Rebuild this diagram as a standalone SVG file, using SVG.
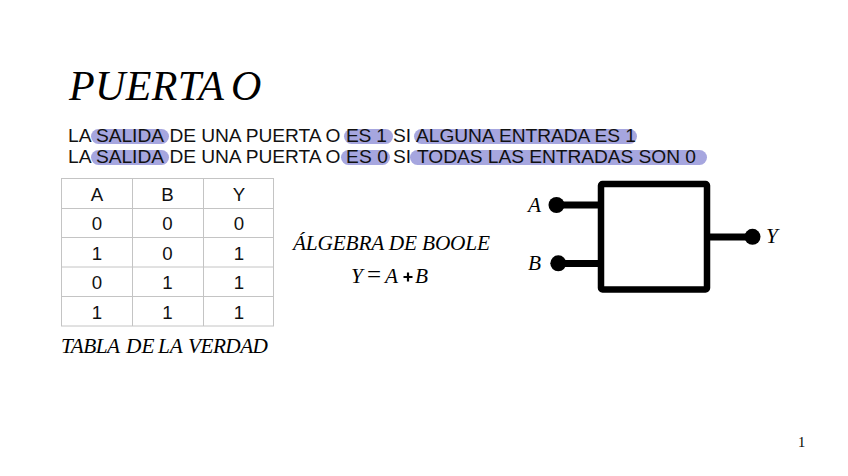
<svg xmlns="http://www.w3.org/2000/svg" width="848" height="476" viewBox="0 0 848 476">
<style>
.s{font-family:"Liberation Sans",Arial,sans-serif;font-size:19.2px;fill:#111}
.c{font-family:"Liberation Sans",Arial,sans-serif;font-size:18.7px;fill:#111;text-anchor:middle}
.i{font-family:"Liberation Serif","Times New Roman",serif;font-style:italic;fill:#000;font-size:21.3px}
.h{fill:#a6a6df}
.g{stroke:#c4c4c4;stroke-width:1;fill:none}
.k{stroke:#000;fill:none;stroke-width:7}
</style>
<rect width="848" height="476" fill="#fff"/>
<g id="title">
<text class="i" style="font-size:42px" x="69" y="100" textLength="155" lengthAdjust="spacing">PUERTA</text>
<text class="i" style="font-size:42px" x="231" y="100">O</text>
</g>
<g id="highlights">
<rect class="h" x="91" y="129" width="78" height="15" rx="7.500"/>
<rect class="h" x="344" y="129" width="49" height="15" rx="7.500"/>
<rect class="h" x="414" y="129" width="223" height="15" rx="7.500"/>
<rect class="h" x="91" y="150" width="78" height="15" rx="7.500"/>
<rect class="h" x="341" y="150" width="49" height="15" rx="7.500"/>
<rect class="h" x="410" y="150" width="297" height="15" rx="7.500"/>
</g>
<g id="description">
<text class="s" x="68" y="142">LA</text>
<text class="s" x="96" y="142" textLength="68">SALIDA</text>
<text class="s" x="169.500" y="142" textLength="171">DE UNA PUERTA O</text>
<text class="s" x="346" y="142" textLength="41">ES 1</text>
<text class="s" x="393" y="142">SI</text>
<text class="s" x="416" y="142" textLength="220">ALGUNA ENTRADA ES 1</text>
<text class="s" x="68" y="163">LA</text>
<text class="s" x="96" y="163" textLength="68">SALIDA</text>
<text class="s" x="169.500" y="163" textLength="171">DE UNA PUERTA O</text>
<text class="s" x="346" y="163" textLength="42">ES 0</text>
<text class="s" x="393" y="163">SI</text>
<text class="s" x="417" y="163" textLength="279">TODAS LAS ENTRADAS SON 0</text>
</g>
<g id="truth-table">
<path class="g" d="M61 178.500H274M61 208.500H274M61 237.500H274M61 267H274M61 296.500H274M61 326H274M61.500 178.500V326M132.500 178.500V326M203.500 178.500V326M273.500 178.500V326"/>
<text class="c" x="97" y="201">A</text><text class="c" x="167.500" y="201">B</text><text class="c" x="239" y="201">Y</text>
<text class="c" x="97" y="230">0</text><text class="c" x="167.500" y="230">0</text><text class="c" x="239" y="230">0</text>
<text class="c" x="97" y="259.500">1</text><text class="c" x="167.500" y="259.500">0</text><text class="c" x="239" y="259.500">1</text>
<text class="c" x="97" y="289">0</text><text class="c" x="167.500" y="289">1</text><text class="c" x="239" y="289">1</text>
<text class="c" x="97" y="318.500">1</text><text class="c" x="167.500" y="318.500">1</text><text class="c" x="239" y="318.500">1</text>
</g>
<g id="table-caption">
<text class="i" x="61" y="353" textLength="59">TABLA</text>
<text class="i" x="126" y="353">DE</text>
<text class="i" x="158" y="353">LA</text>
<text class="i" x="188" y="353" textLength="80">VERDAD</text>
</g>
<text id="algebra-title" class="i" x="293" y="250" textLength="197" lengthAdjust="spacing">ÁLGEBRA DE BOOLE</text>
<g id="formula">
<text class="i" x="351" y="283">Y</text>
<text class="i" x="367" y="283" style="font-style:normal;font-size:25px">=</text>
<text class="i" x="385" y="283">A</text>
<path d="M403.500 277H412.500M408 272.500V281.500" stroke="#000" stroke-width="2.200" fill="none"/>
<text class="i" x="415" y="283">B</text>
</g>
<g id="connectors">
<path class="k" d="M556 205H601M558 263.500H601M707 237H752"/>
<circle cx="556.500" cy="205" r="8"/>
<circle cx="558.300" cy="263.300" r="8"/>
<circle cx="752.500" cy="236.800" r="8"/>
</g>
<g id="or-gate">
<rect class="k" x="601" y="184" width="106" height="105.500" rx="1.500" style="stroke-width:6.500"/>
</g>
<g id="port-labels">
<text class="i" x="528" y="212">A</text>
<text class="i" x="528" y="270">B</text>
<text class="i" x="766" y="243">Y</text>
</g>
<text id="page-number" x="798" y="447" font-family="Liberation Serif, serif" font-size="14.500">1</text>
</svg>
